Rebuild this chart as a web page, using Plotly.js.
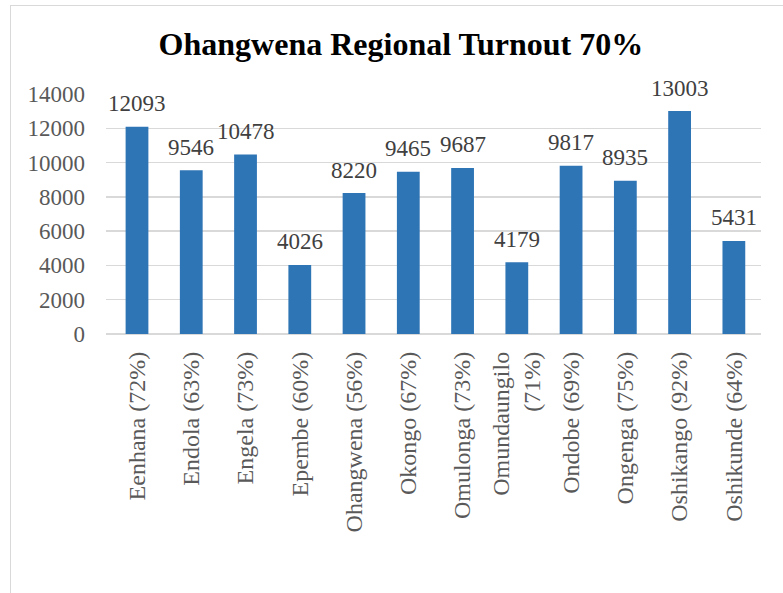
<!DOCTYPE html>
<html>
<head>
<meta charset="utf-8">
<script src="https://cdn.plot.ly/plotly-3.0.1.min.js"></script>
<style>
html,body{margin:0;padding:0;background:#fff;}
#wrap{position:relative;width:783px;height:593px;overflow:hidden;}
#frame{position:absolute;left:10px;top:5px;width:790px;height:620px;border:1px solid #d9d9d9;box-sizing:border-box;pointer-events:none;}
#chart{position:absolute;left:0;top:0;width:783px;height:593px;}
</style>
</head>
<body>
<div id="wrap">
<div id="chart"></div>
<div id="frame"></div>
</div>
<script>
const categories = ["Eenhana (72%)", "Endola (63%)", "Engela (73%)", "Epembe (60%)", "Ohangwena (56%)", "Okongo (67%)", "Omulonga (73%)", "Omundaungilo<br>(71%)", "Ondobe (69%)", "Ongenga (75%)", "Oshikango (92%)", "Oshikunde (64%)"];
const votes = [12093, 9546, 10478, 4026, 8220, 9465, 9687, 4179, 9817, 8935, 13003, 5431];
const yTicks = [0, 2000, 4000, 6000, 8000, 10000, 12000, 14000];

const serif = "'Liberation Serif', 'Times New Roman', serif";

const labels = categories.map((c, i) => ({
  x: c, y: votes[i], xref: 'x', yref: 'y',
  text: String(votes[i]), showarrow: false,
  yanchor: 'middle', yshift: 23,
  font: {family: serif, size: 23, color: '#404040'}
}));

Plotly.newPlot('chart', [{
  type: 'bar',
  x: categories,
  y: votes,
  marker: {color: '#2E75B6'},
  hoverinfo: 'x+y'
}], {
  width: 783, height: 593,
  margin: {l: 106, r: 22, t: 94, b: 259},
  paper_bgcolor: 'rgba(0,0,0,0)',
  plot_bgcolor: 'rgba(0,0,0,0)',
  bargap: 0.58,
  showlegend: false,
  annotations: labels,
  title: {text: '<b>Ohangwena Regional Turnout 70%</b>', font: {family: serif, size: 32, color: '#000'}, x: 0.512, xanchor: 'center', y: 0.926, yanchor: 'middle'},
  xaxis: {
    type: 'category',
    tickangle: -90,
    tickfont: {family: serif, size: 24, color: '#595959'},
    showgrid: false,
    ticks: '',
    showline: false,
    ticklabelstandoff: 12,
    automargin: false
  },
  yaxis: {
    range: [0, 14000],
    tickvals: yTicks,
    ticktext: yTicks.map(String),
    tickfont: {family: serif, size: 23, color: '#595959'},
    showgrid: true,
    gridcolor: '#d9d9d9',
    gridwidth: 1.5,
    zeroline: true,
    zerolinecolor: '#d9d9d9',
    zerolinewidth: 1.5,
    ticks: '',
    ticklen: 0,
    ticklabelstandoff: 20,
    automargin: false
  }
}, {displayModeBar: false, staticPlot: true});
</script>
</body>
</html>
